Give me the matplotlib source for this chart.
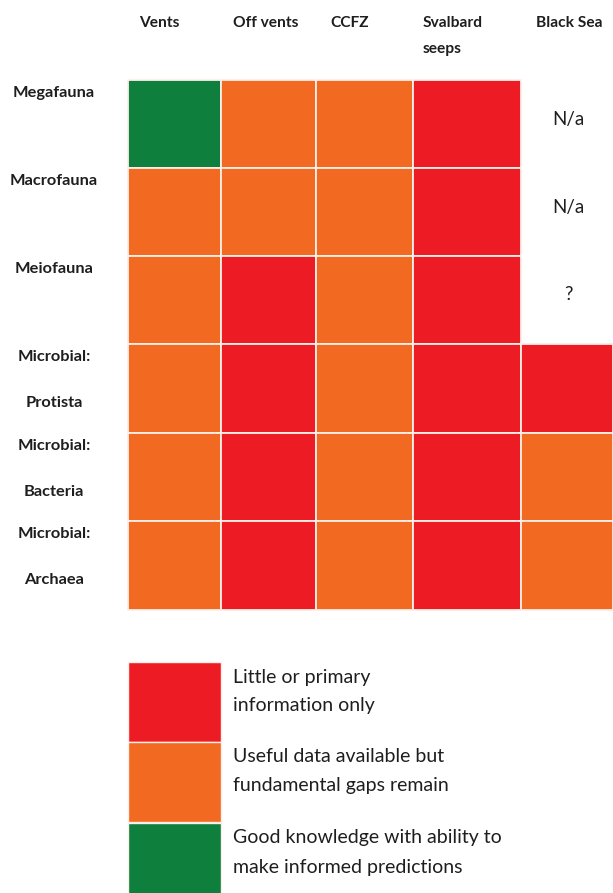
import numpy as np
import matplotlib.pyplot as plt
from matplotlib.colors import ListedColormap
from matplotlib.patches import Rectangle

plt.rcParams['font.family'] = ['Lato', 'DejaVu Sans']

# knowledge level: 0 = little/primary, 1 = useful but gaps, 2 = good knowledge
habitats = ['Vents', 'Off vents', 'CCFZ', 'Svalbard\nseeps', 'Black Sea']
groups = ['Megafauna', 'Macrofauna', 'Meiofauna',
          'Microbial:\nProtista', 'Microbial:\nBacteria', 'Microbial:\nArchaea']
levels = [
    [2, 1, 1, 0, np.nan],
    [1, 1, 1, 0, np.nan],
    [1, 0, 1, 0, np.nan],
    [1, 0, 1, 0, 0],
    [1, 0, 1, 0, 1],
    [1, 0, 1, 0, 1],
]
missing_text = ['N/a', 'N/a', '?']
legend_labels = ['Little or primary\ninformation only',
                 'Useful data available but\nfundamental gaps remain',
                 'Good knowledge with ability to\nmake informed predictions']

colors = ['#ED1C24', '#F26922', '#0F7F3E']
cmap = ListedColormap(colors)
txt_col = '#1E1E1E'

# cell edges in pixel space of the 613x893 figure
col_edges = [128, 221, 316, 413, 521, 613]
row_edges = [80, 168, 256, 344, 433, 521, 610]
header_x = [139, 233, 330, 423, 536]

fig = plt.figure(figsize=(6.13, 8.93), dpi=100)
ax = fig.add_axes([0, 0, 1, 1])
ax.set_xlim(0, 613)
ax.set_ylim(893, 0)
ax.axis('off')

data = np.ma.masked_invalid(np.array(levels, dtype=float))
ax.pcolor(col_edges, row_edges, data, cmap=cmap, vmin=-0.5, vmax=2.5,
          edgecolors='#FDEFE8', linewidth=1.3)

# column headers
for x, name in zip(header_x, habitats):
    for k, line in enumerate(name.split('\n')):
        ax.text(x, 23 + 26 * k, line, ha='left', va='center', fontsize=11.2,
                fontweight='bold', color=txt_col)

# row labels
for i, name in enumerate(groups):
    y0 = row_edges[i]
    for k, line in enumerate(name.split('\n')):
        ax.text(54, y0 + 13 + 46 * k, line, ha='center', va='center',
                fontsize=11.8, fontweight='bold', color=txt_col)

# text in cells without data
for i, t in enumerate(missing_text):
    yc = (row_edges[i] + row_edges[i + 1]) / 2
    ax.text(568, yc - 5, t, ha='center', va='center', fontsize=13.5,
            color=txt_col)

# legend boxes
box_tops = [662, 742, 823]
for top, c, lab in zip(box_tops, colors, legend_labels):
    ax.add_patch(Rectangle((128, top), 93, 80, facecolor=c,
                           edgecolor='#FDEFE8', linewidth=1.0))
    for k, line in enumerate(lab.split('\n')):
        ax.text(233, top + 15 + 29 * k, line, ha='left', va='center',
                fontsize=14, color=txt_col)

fig.savefig('out.png', dpi=100)
